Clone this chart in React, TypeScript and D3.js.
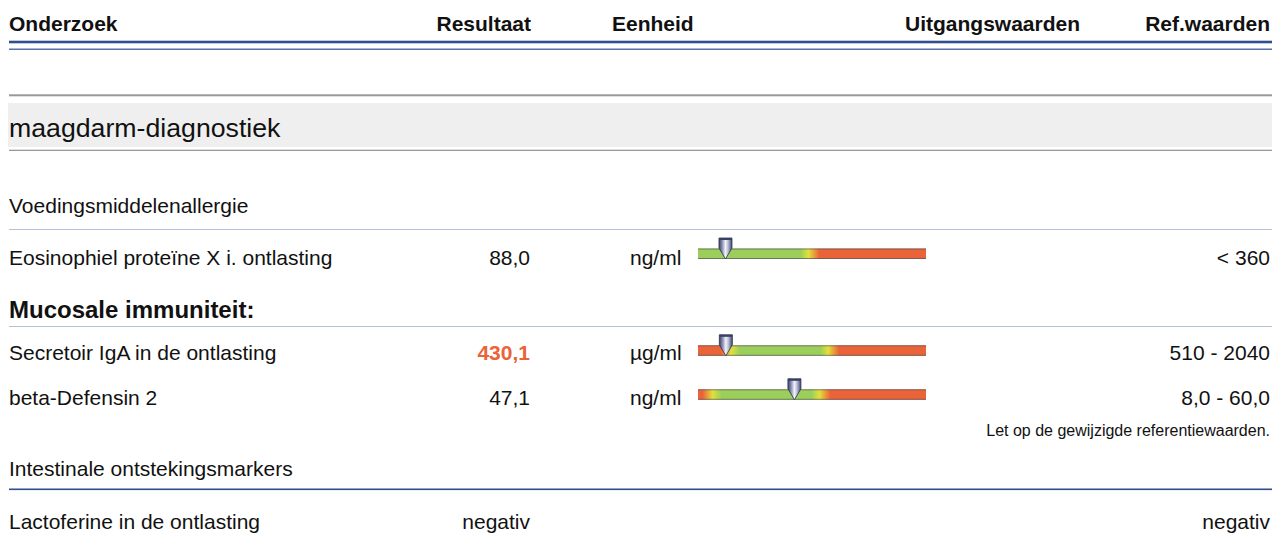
import React from 'react';
import * as d3 from 'd3';

const headers = ['Onderzoek', 'Resultaat', 'Eenheid', 'Uitgangswaarden', 'Ref.waarden'];
const sectionTitle = 'maagdarm-diagnostiek';
const groupTitles = ['Voedingsmiddelenallergie', 'Mucosale immuniteit:', 'Intestinale ontstekingsmarkers'];

const tests = ['Eosinophiel proteïne X i. ontlasting', 'Secretoir IgA in de ontlasting', 'beta-Defensin 2'];
const results = [88.0, 430.1, 47.1];
const units = ['ng/ml', 'µg/ml', 'ng/ml'];
const refLow = [null, 510, 8.0];
const refHigh = [360, 2040, 60.0];
const refLabels = ['< 360', '510 - 2040', '8,0 - 60,0'];
const barDomains = [[0, 730], [0, 3520], [1, 110]];

const note = 'Let op de gewijzigde referentiewaarden.';
const qualTest = 'Lactoferine in de ontlasting';
const qualResult = 'negativ';
const qualRef = 'negativ';

const nl = d3.formatLocale({ decimal: ',', thousands: '.', grouping: [3], currency: ['€', ''] });
const fmt = nl.format('.1f');

const FONT = '"Liberation Sans", Arial, Helvetica, sans-serif';
const BLUE = '#2f4d8f';
const RED = '#eb6339';
const YELLOW = '#e1e03c';
const GREEN = '#9bce5a';

const BAR_X0 = 698;
const BAR_X1 = 926;

function RangeBar({ i, y }: { i: number; y: number }) {
    const x = d3.scaleLinear().domain(barDomains[i]).range([BAR_X0, BAR_X1]);
    const h = 10.5;
    const w = BAR_X1 - BAR_X0;
    const stops: { off: number; c: string }[] = [];
    const rel = (px: number) => Math.max(0, Math.min(1, (px - BAR_X0) / w));
    if (refLow[i] !== null) {
        const xl = x(refLow[i] as number);
        stops.push({ off: 0, c: RED });
        stops.push({ off: rel(xl - 10), c: RED });
        stops.push({ off: rel(xl), c: YELLOW });
        stops.push({ off: rel(xl + 9), c: GREEN });
    } else {
        stops.push({ off: 0, c: GREEN });
    }
    const xh = x(refHigh[i]);
    stops.push({ off: rel(xh - 10), c: GREEN });
    stops.push({ off: rel(xh - 2), c: YELLOW });
    stops.push({ off: rel(xh + 9), c: RED });
    stops.push({ off: 1, c: RED });

    const vx = x(results[i]);
    const top = y - 10.5;
    const pin = `M${vx - 6.5},${top} L${vx + 6.5},${top} L${vx + 6.5},${top + 10} L${vx},${y + h} L${vx - 6.5},${top + 10} Z`;
    return (
        <g>
            <defs>
                <linearGradient id={'bar' + i} x1="0" x2="1" y1="0" y2="0">
                    {stops.map((s, k) => <stop key={k} offset={s.off} stopColor={s.c} />)}
                </linearGradient>
            </defs>
            <rect x={BAR_X0} y={y} width={w} height={h} fill={'url(#bar' + i + ')'} />
            <line x1={BAR_X0} x2={BAR_X1} y1={y + 0.5} y2={y + 0.5} stroke="#555" strokeOpacity={0.7} />
            <line x1={BAR_X0} x2={BAR_X1} y1={y + h - 0.5} y2={y + h - 0.5} stroke="#555" strokeOpacity={0.7} />
            <path d={pin} fill="url(#pinGrad)" stroke="#2c3152" strokeWidth={0.8} />
            <rect x={vx - 6.5} y={top} width={13} height={2} fill="#3a3f66" />
        </g>
    );
}

export default function App() {
    const W = 1272;
    const H = 538;
    const txt = { fontFamily: FONT, fontSize: 21, fill: '#111' };
    const rowY = [265, 360, 405];
    const barY = [248.5, 345.3, 389.3];
    return (
        <svg width={W} height={H} style={{ position: 'absolute', left: 0, top: 0, background: '#fff' }}>
            <defs>
                <linearGradient id="pinGrad" x1="0" x2="1" y1="0" y2="0">
                    <stop offset="0" stopColor="#3b3f68" />
                    <stop offset="0.25" stopColor="#8c90b4" />
                    <stop offset="0.5" stopColor="#f2f3f9" />
                    <stop offset="0.7" stopColor="#b9bcd2" />
                    <stop offset="1" stopColor="#3e4370" />
                </linearGradient>
            </defs>

            {/* header */}
            <text x={9} y={31} {...txt} fontWeight="bold">{headers[0]}</text>
            <text x={531} y={31} {...txt} fontWeight="bold" textAnchor="end">{headers[1]}</text>
            <text x={612} y={31} {...txt} fontWeight="bold">{headers[2]}</text>
            <text x={905} y={31} {...txt} fontWeight="bold">{headers[3]}</text>
            <text x={1270} y={31} {...txt} fontWeight="bold" textAnchor="end">{headers[4]}</text>
            <rect x={9} y={40.7} width={W - 9} height={2.6} fill={BLUE} />
            <rect x={9} y={48.6} width={W - 9} height={1.2} fill={BLUE} />

            {/* section */}
            <rect x={9} y={94.3} width={W - 9} height={2} fill="#999" />
            <rect x={8} y={103} width={W - 8} height={44} fill="#efefef" />
            <rect x={9} y={149.7} width={W - 9} height={1.3} fill="#999" />
            <text x={9} y={137} fontFamily={FONT} fontSize={26.7} fill="#111">{sectionTitle}</text>

            {/* Voedingsmiddelenallergie */}
            <text x={9} y={213} {...txt}>{groupTitles[0]}</text>
            <line x1={9} x2={W} y1={229.5} y2={229.5} stroke={BLUE} strokeOpacity={0.35} />

            {/* Mucosale immuniteit */}
            <text x={9} y={318} fontFamily={FONT} fontSize={24} fontWeight="bold" fill="#111">{groupTitles[1]}</text>
            <line x1={9} x2={W} y1={326.5} y2={326.5} stroke={BLUE} strokeOpacity={0.35} />

            {tests.map((t, i) => (
                <g key={t}>
                    <text x={9} y={rowY[i]} {...txt}>{t}</text>
                    <text x={530} y={rowY[i]} {...txt} textAnchor="end"
                          fill={results[i] < (refLow[i] ?? -Infinity) || results[i] > refHigh[i] ? RED : '#111'}
                          fontWeight={results[i] < (refLow[i] ?? -Infinity) || results[i] > refHigh[i] ? 'bold' : 'normal'}>
                        {fmt(results[i])}
                    </text>
                    <text x={630} y={rowY[i]} {...txt}>{units[i]}</text>
                    <RangeBar i={i} y={barY[i]} />
                    <text x={1270} y={rowY[i]} {...txt} textAnchor="end">{refLabels[i]}</text>
                </g>
            ))}

            <text x={1270} y={436} fontFamily={FONT} fontSize={16} fill="#111" textAnchor="end">{note}</text>

            {/* Intestinale ontstekingsmarkers */}
            <text x={9} y={476} {...txt}>{groupTitles[2]}</text>
            <rect x={9} y={488.5} width={W - 9} height={1.6} fill={BLUE} />
            <text x={9} y={529} {...txt}>{qualTest}</text>
            <text x={530} y={529} {...txt} textAnchor="end">{qualResult}</text>
            <text x={1270} y={529} {...txt} textAnchor="end">{qualRef}</text>
        </svg>
    );
}
